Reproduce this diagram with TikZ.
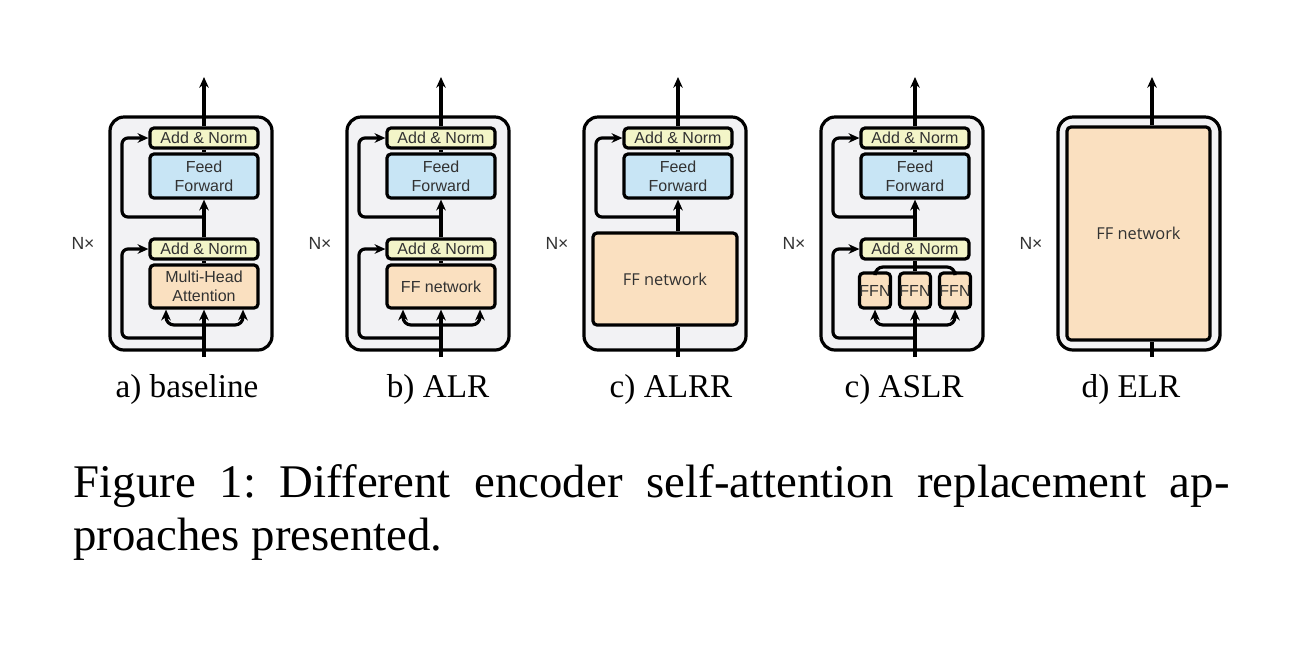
\documentclass[tikz,border=0pt]{standalone}
\usepackage{fontspec}
\setmainfont{Liberation Serif}
\setsansfont{Liberation Sans}
\newfontfamily\netfont{Open Sans}
\usetikzlibrary{arrows.meta}

\definecolor{boxgrey}{RGB}{242,242,244}
\definecolor{anyellow}{RGB}{243,245,200}
\definecolor{ffblue}{RGB}{200,229,245}
\definecolor{attorange}{RGB}{250,224,192}
\definecolor{txtgrey}{RGB}{50,50,50}

\tikzset{
	arr/.style={-{Stealth[length=2.7pt,width=2.4pt]}},
	outerbox/.style={draw, fill=boxgrey, rounded corners=3.5pt, minimum width=40.5pt, minimum height=58.25pt},
	blk/.style={draw, rounded corners=1pt, inner sep=0pt, align=center, text=txtgrey,
		font=\sffamily\fontsize{4.0}{4.75}\selectfont},
	addnorm/.style={blk, fill=anyellow, minimum width=27pt, minimum height=5pt},
	ffbox/.style={blk, fill=ffblue, minimum width=27pt, minimum height=11pt},
	attbox/.style={blk, fill=attorange, minimum width=27pt, minimum height=10.75pt},
	ffnbox/.style={blk, fill=attorange, minimum width=7pt, minimum height=8.75pt},
	netbox/.style={blk, fill=attorange, font=\netfont\fontsize{4.1}{4.75}\selectfont},
	nx/.style={inner sep=0pt, text=txtgrey, font=\sffamily\fontsize{4.4}{5}\selectfont},
	sublabel/.style={anchor=base, inner sep=0pt, font=\fontsize{8.3}{10}\selectfont},
	caption/.style={anchor=base west, inner sep=0pt, text width=289pt, align=justify,
		font=\fontsize{11.7}{13.25}\selectfont}
}

\begin{document}
\begin{tikzpicture}[x=0.25pt,y=-0.25pt,line width=0.8pt]
	\useasboundingbox (0,0) rectangle (1316,656);
	
	\foreach \p/\o in {a/0,b/237,c/474,d/711}{
		\node[outerbox] (\p-box) at (191+\o,233.5) {};
		\node[addnorm] (\p-an2) at (204+\o,138) {Add \& Norm};
		\node[ffbox] (\p-ff) at (204+\o,176) {Feed\\Forward};
		\node[nx] (\p-nx) at (83+\o,243) {N×};
		\coordinate (\p-out) at (204+\o,77);
		\coordinate (\p-in) at (204+\o,357);
		\coordinate (\p-r2) at (204+\o,217);
		\coordinate (\p-l2) at (122+\o,217);
		\draw[arr] (\p-an2) -- (\p-out);
		\draw (\p-ff) -- (\p-an2);
		\draw[arr, rounded corners=1.5pt] (\p-r2) -- (\p-l2) |- (\p-an2.west);
	}
	
	\foreach \p/\o/\t in {a/0/{Multi-Head\\Attention},b/237/{FF network}}{
		\node[addnorm] (\p-an1) at (204+\o,249) {Add \& Norm};
		\node[attbox] (\p-att) at (204+\o,286.5) {\t};
		\coordinate (\p-sp) at (204+\o,325);
		\coordinate (\p-l1) at (122+\o,338);
		\draw (\p-att) -- (\p-an1);
		\draw[arr] (\p-an1) -- (\p-ff);
		\draw[arr] (\p-in) -- (\p-att);
		\draw[arr, rounded corners=2pt] (\p-sp) -| ([xshift=-9.5pt]\p-att.south);
		\draw[arr, rounded corners=2pt] (\p-sp) -| ([xshift=9.75pt]\p-att.south);
		\draw[arr, rounded corners=1.5pt] (\p-in |- \p-l1) -- (\p-l1) |- (\p-an1.west);
	}
	
	\node[netbox, minimum width=36pt, minimum height=23pt] (c-big) at (665,279) {FF network};
	\draw[arr] (c-big.north -| c-ff.south) -- (c-ff.south);
	\draw (c-in) -- (c-in |- c-big.south);
	
	\node[addnorm] (d-an1) at (915,249) {Add \& Norm};
	\node[ffnbox] (d-f1) at (875,290.5) {FFN};
	\node[ffnbox] (d-f2) at (915,290.5) {FFN};
	\node[ffnbox] (d-f3) at (955,290.5) {FFN};
	\coordinate (d-j) at (915,267);
	\coordinate (d-sp) at (915,325);
	\coordinate (d-l1) at (833,338);
	\draw (d-f2) -- (d-an1);
	\draw[arr] (d-an1) -- (d-ff);
	\draw[rounded corners=2pt] (d-f1) |- (d-j) -| (d-f3);
	\draw[arr] (d-in) -- (d-f2);
	\draw[arr, rounded corners=2pt] (d-sp) -| (d-f1);
	\draw[arr, rounded corners=2pt] (d-sp) -| (d-f3);
	\draw[arr, rounded corners=1.5pt] (d-in |- d-l1) -- (d-l1) |- (d-an1.west);
	
	\node[outerbox, rounded corners=3.75pt] (e-box) at (1139,233.5) {};
	\node[netbox, minimum width=35.75pt, minimum height=53.25pt] (e-ff) at (1138.5,233.5) {FF network};
	\node[nx] (e-nx) at (1031,243) {N×};
	\coordinate (e-out) at (1152,77);
	\coordinate (e-in) at (1152,357);
	\draw[arr] (e-out |- e-ff.north) -- (e-out);
	\draw (e-in) -- (e-in |- e-ff.south);
	
	\node[sublabel] (a-lab) at (187,397) {a) baseline};
	\node[sublabel] (b-lab) at (438,397) {b) ALR};
	\node[sublabel] (c-lab) at (671,397) {c) ALRR};
	\node[sublabel] (d-lab) at (904,397) {c) ASLR};
	\node[sublabel] (e-lab) at (1131,397) {d) ELR};
	
	\node[caption] (cap) at (72,497) {\noindent\frenchspacing Figure 1: Different encoder self-attention replacement ap-\linebreak proaches presented.};
\end{tikzpicture}
\end{document}
